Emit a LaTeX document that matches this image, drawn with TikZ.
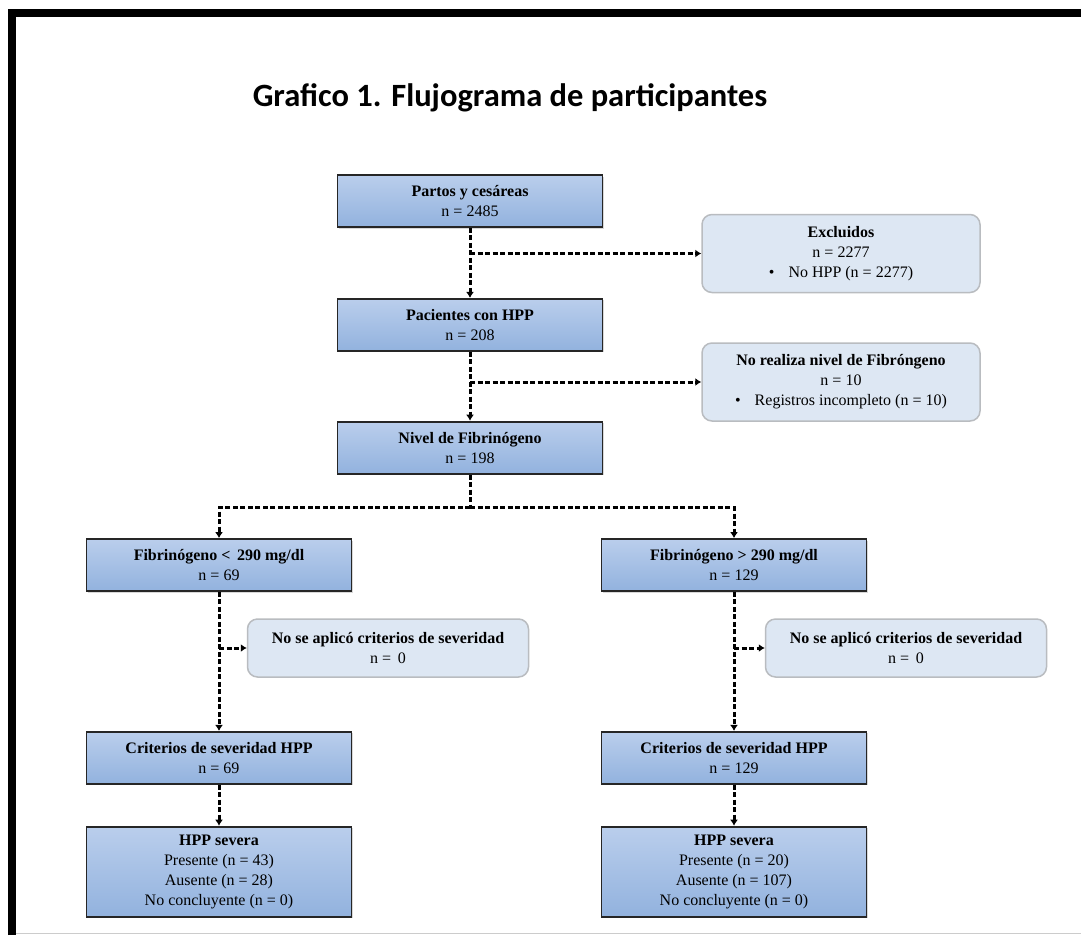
\documentclass[tikz,border=0pt]{standalone}
\usepackage{fontspec}
\setmainfont{Liberation Serif}
\newfontfamily\titlefont{Carlito}
\usepackage{tikz}
\usetikzlibrary{arrows.meta,positioning,shadows}

\definecolor{boxtop}{RGB}{186,206,236}
\definecolor{boxbottom}{RGB}{146,178,222}
\definecolor{exclfill}{RGB}{221,231,243}
\definecolor{exclline}{RGB}{185,188,192}

\begin{document}
\begin{tikzpicture}[
  x=1pt, y=1pt,
  >={Latex[length=6pt,width=8pt]},
  box/.style={rectangle, draw=black!85, line width=1.8pt, top color=boxtop, bottom color=boxbottom, align=center, minimum width=265pt, minimum height=52pt, inner sep=2pt, font=\fontsize{16}{20}\selectfont, drop shadow={shadow xshift=1.5pt, shadow yshift=-1.5pt, opacity=0.3}},
  excl/.style={rectangle, rounded corners=10pt, draw=exclline, line width=1.5pt, fill=exclfill, align=center, minimum width=278pt, minimum height=78pt, inner sep=2pt, font=\fontsize{16}{20}\selectfont},
  link/.style={line width=3pt, dash pattern=on 5pt off 2.5pt},
  flow/.style={link, ->},
]
\useasboundingbox (0,0) rectangle (1081,-935);
\fill[white] (0,0) rectangle (1081,-935);
\draw[line width=8pt] (12,-935) -- (12,-13) -- (1081,-13);
\draw[black!20, line width=1pt] (16,-933.5) -- (1081,-933.5);

\node[font=\titlefont\bfseries\fontsize{32.5}{38}\selectfont] (titulo) at (510,-98) {Grafico 1. Flujograma de participantes};

\node[box] (partos) at (470,-201) {\textbf{Partos y cesáreas}\\n = 2485};
\node[box, below=70pt of partos] (hpp) {\textbf{Pacientes con HPP}\\n = 208};
\node[box, below=69pt of hpp] (nivel) {\textbf{Nivel de Fibrinógeno}\\n = 198};
\node[excl] (excluidos) at (841,-253.5) {\textbf{Excluidos}\\n = 2277\\\textbullet\hspace{14pt}No HPP (n = 2277)};
\node[excl] (norealiza) at (841,-382) {\textbf{No realiza nivel de Fibróngeno}\\n = 10\\\textbullet\hspace{14pt}Registros incompleto (n = 10)};

\node[box] (fibbajo) at (219,-565) {\textbf{Fibrinógeno <\, 290 mg/dl}\\n = 69};
\node[box] (fibalto) at (734,-565) {\textbf{Fibrinógeno > 290 mg/dl}\\n = 129};
\node[excl, minimum width=281pt, minimum height=58pt] (noaplicoL) at (388,-648) {\textbf{No se aplicó criterios de severidad}\\n = \,0};
\node[excl, minimum width=281pt, minimum height=58pt] (noaplicoR) at (906,-648) {\textbf{No se aplicó criterios de severidad}\\n = \,0};
\node[box, below=139pt of fibbajo] (critL) {\textbf{Criterios de severidad HPP}\\n = 69};
\node[box, below=139pt of fibalto] (critR) {\textbf{Criterios de severidad HPP}\\n = 129};
\node[box, below=41pt of critL, minimum height=90pt] (sevL) {\textbf{HPP severa}\\Presente (n = 43)\\Ausente (n = 28)\\No concluyente (n = 0)};
\node[box, below=41pt of critR, minimum height=90pt] (sevR) {\textbf{HPP severa}\\Presente (n = 20)\\Ausente (n = 107)\\No concluyente (n = 0)};

\coordinate[below=33pt of nivel] (split);

\draw[flow] (partos) -- (hpp);
\draw[flow] (partos.south |- excluidos.west) -- (excluidos);
\draw[flow] (hpp) -- (nivel);
\draw[flow] (hpp.south |- norealiza.west) -- (norealiza);
\draw[link] (nivel) -- (split);
\draw[flow] (split) -| (fibbajo);
\draw[flow] (split) -| (fibalto);
\draw[flow] (fibbajo) -- (critL);
\draw[flow] (fibbajo.south |- noaplicoL.west) -- (noaplicoL);
\draw[flow] (fibalto) -- (critR);
\draw[flow] (fibalto.south |- noaplicoR.west) -- (noaplicoR);
\draw[flow] (critL) -- (sevL);
\draw[flow] (critR) -- (sevR);
\end{tikzpicture}
\end{document}
